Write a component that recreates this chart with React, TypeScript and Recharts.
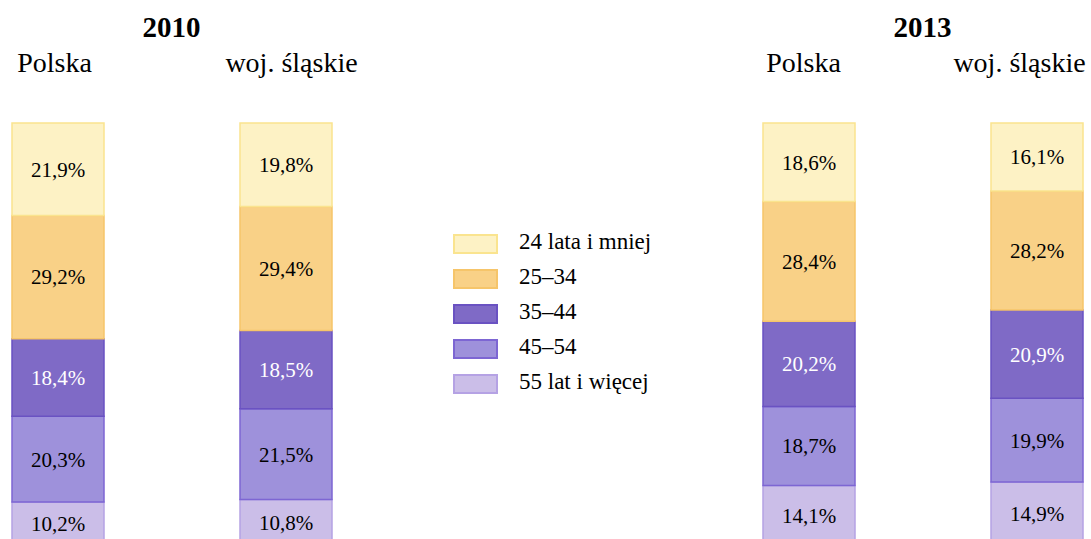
import { Bar, BarChart, LabelList, Legend, XAxis, YAxis } from "recharts";

const YEARS = ["2010", "2013"];
const AGE_GROUPS = ["55 lat i więcej", "45–54", "35–44", "25–34", "24 lata i mniej"];

// shares in %, bottom segment first
const POLSKA_2010 = [10.2, 20.3, 18.4, 29.2, 21.9];
const SLASKIE_2010 = [10.8, 21.5, 18.5, 29.4, 19.8];
const POLSKA_2013 = [14.1, 18.7, 20.2, 28.4, 18.6];
const SLASKIE_2013 = [14.9, 19.9, 20.9, 28.2, 16.1];

const FILLS = ["#cbbee8", "#9e91db", "#7f6ac6", "#f9d187", "#fdf2c5"];
const STROKES = ["#b5a2e4", "#7d66d3", "#6a52c2", "#f6c56a", "#fae48f"];
const LABEL_COLORS = ["#000", "#000", "#fff", "#000", "#000"];

const FONT = "'Liberation Serif', 'Times New Roman', serif";

const POLSKA = [POLSKA_2010, POLSKA_2013];
const SLASKIE = [SLASKIE_2010, SLASKIE_2013];

const data = YEARS.map((year, i) => {
  const row: Record<string, string | number> = { year };
  AGE_GROUPS.forEach((_, k) => {
    row[`pl${k}`] = POLSKA[i][k];
    row[`sl${k}`] = SLASKIE[i][k];
  });
  return row;
});

// header offsets from the year centre (Polska, woj. śląskie)
const HEADER_OFFSETS = [
  [-117, 120],
  [-119, 97],
];

function fmt(v: any) {
  return `${Number(v).toFixed(1).replace(".", ",")}%`;
}

function HeaderTick(props: any) {
  const { x, payload, index } = props;
  const [pl, sl] = HEADER_OFFSETS[index] ?? [-117, 120];
  return (
    <g>
      <text x={x} y={37} textAnchor="middle" fontSize={29} fontWeight="bold" fontFamily={FONT} fill="#000">
        {payload.value}
      </text>
      <text x={x + pl} y={72} textAnchor="middle" fontSize={28} fontFamily={FONT} fill="#000">
        Polska
      </text>
      <text x={x + sl} y={72} textAnchor="middle" fontSize={28} fontFamily={FONT} fill="#000">
        woj. śląskie
      </text>
    </g>
  );
}

function LegendBox(props: any) {
  const seen = new Set<string>();
  const items = (props.payload ?? [])
    .filter((p: any) => {
      if (seen.has(p.value)) return false;
      seen.add(p.value);
      return true;
    })
    .sort((a: any, b: any) => AGE_GROUPS.indexOf(b.value) - AGE_GROUPS.indexOf(a.value));
  return (
    <div style={{ fontFamily: FONT }}>
      {items.map((item: any) => {
        const k = AGE_GROUPS.indexOf(item.value);
        return (
          <div key={item.value} style={{ display: "flex", alignItems: "center", height: 20, marginBottom: 15 }}>
            <div
              style={{
                width: 41,
                height: 16,
                background: FILLS[k],
                border: `2px solid ${STROKES[k]}`,
              }}
            />
            <span style={{ marginLeft: 21, fontSize: 23, lineHeight: "20px", color: "#000", marginTop: -4 }}>
              {item.value}
            </span>
          </div>
        );
      })}
    </div>
  );
}

export default function App() {
  return (
    <div
      style={{
        position: "fixed",
        left: 0,
        top: 0,
        width: 1091,
        height: 539,
        overflow: "hidden",
        background: "#fff",
        fontFamily: FONT,
      }}
    >
      <div style={{ position: "absolute", left: -204, top: 0 }}>
        <BarChart
          width={1502}
          height={545}
          data={data}
          margin={{ top: 0, right: 0, bottom: 0, left: 0 }}
          barSize={92}
          barGap={136}
        >
          <XAxis
            dataKey="year"
            orientation="top"
            height={123}
            axisLine={false}
            tickLine={false}
            interval={0}
            tick={<HeaderTick />}
          />
          <YAxis hide domain={[0, 100]} />
          <Legend
            layout="vertical"
            align="center"
            verticalAlign="middle"
            content={<LegendBox />}
            wrapperStyle={{ left: 657, top: 234, width: 260, bottom: "auto", right: "auto" }}
          />
          {AGE_GROUPS.flatMap((group, k) => [
            <Bar
              key={`pl${k}`}
              dataKey={`pl${k}`}
              stackId="pl"
              name={group}
              fill={FILLS[k]}
              stroke={STROKES[k]}
              strokeWidth={1.5}
              isAnimationActive={false}
            >
              <LabelList
                dataKey={`pl${k}`}
                position="center"
                formatter={fmt}
                fill={LABEL_COLORS[k]}
                fontSize={21}
                fontFamily={FONT}
              />
            </Bar>,
            <Bar
              key={`sl${k}`}
              dataKey={`sl${k}`}
              stackId="sl"
              name={group}
              legendType="none"
              fill={FILLS[k]}
              stroke={STROKES[k]}
              strokeWidth={1.5}
              isAnimationActive={false}
            >
              <LabelList
                dataKey={`sl${k}`}
                position="center"
                formatter={fmt}
                fill={LABEL_COLORS[k]}
                fontSize={21}
                fontFamily={FONT}
              />
            </Bar>,
          ])}
        </BarChart>
      </div>
    </div>
  );
}
